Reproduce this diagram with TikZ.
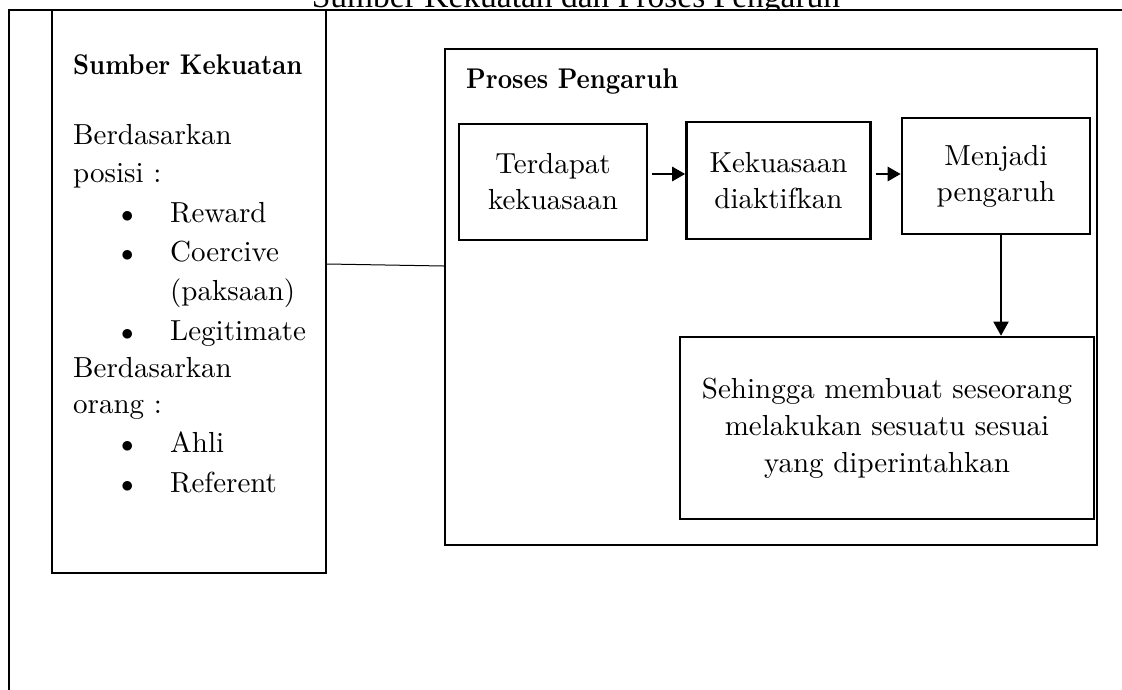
\documentclass[tikz,border=0pt]{standalone}
\usepackage{fontspec}
\setmainfont{lmroman10-regular.otf}[BoldFont=lmroman10-bold.otf]
\newfontfamily\headfont{lmroman10-bold.otf}[FakeStretch=0.88]
\newfontfamily\titlefont{Liberation Serif}
\usetikzlibrary{arrows.meta}
\begin{document}
\begin{tikzpicture}[x=1pt,y=-1pt,
  frame/.style={line width=2.4pt},
  panel/.style={draw, line width=2.3pt, inner sep=0pt},
  box/.style={draw, line width=2.6pt, inner sep=0pt, align=center,
    font=\fontsize{29}{36}\selectfont},
  txt/.style={anchor=base west, inner sep=0pt, font=\fontsize{29}{36}\selectfont},
  head/.style={anchor=base west, inner sep=0pt, font=\headfont\fontsize{28.5}{34}\selectfont},
  item/.style={txt},
  flow/.style={line width=2.7pt, shorten <=4pt, -{Triangle[length=13pt,width=14pt]}},
  drop/.style={line width=1.8pt, -{Triangle[length=14pt,width=15pt]}},
  link/.style={line width=1pt}]
\useasboundingbox (0,0) rectangle (1122,689);

% heading, partly cut by the top edge
\begin{scope}
  \clip (0,0) rectangle (1122,9);
  \node[anchor=base, inner sep=0pt, font=\titlefont\fontsize{33.5}{40}\selectfont]
    (title) at (576,7) {Sumber Kekuatan dan Proses Pengaruh};
\end{scope}

% outer frame lines
\coordinate (tr) at (1125,10);
\coordinate (tl) at (9,10);
\coordinate (bl) at (9,692);
\draw[frame] (tr) -- (tl) -- (bl);

% sources of power
\node[panel, minimum width=274pt, minimum height=563pt] (src) at (189,291.5) {};
\node[head] (srct) at (73,74) {Sumber Kekuatan};
\node[txt] (l1) at (73,144) {Berdasarkan};
\node[txt] (l2) at (73,182) {posisi :};
\node[item] (l3) at (121,222) {\makebox[49pt][l]{$\bullet$}Reward};
\node[item] (l4) at (121,261) {\makebox[49pt][l]{$\bullet$}Coercive};
\node[txt] (l5) at (170,300) {(paksaan)};
\node[item] (l6) at (121,340) {\makebox[49pt][l]{$\bullet$}Legitimate};
\node[txt] (l7) at (73,377) {Berdasarkan};
\node[txt] (l8) at (73,413) {orang :};
\node[item] (l9) at (121,452) {\makebox[49pt][l]{$\bullet$}Ahli};
\node[item] (l10) at (121,492) {\makebox[49pt][l]{$\bullet$}Referent};

% influence process
\node[panel, minimum width=652pt, minimum height=496pt] (proc) at (771,297) {};
\node[head] (proct) at (466,88) {Proses Pengaruh};

\node[box, minimum width=188pt, minimum height=116pt] (t1) at (553,182) {Terdapat\\kekuasaan};
\node[box, minimum width=184pt, minimum height=117pt] (k1) at (778.5,180.5) {Kekuasaan\\diaktifkan};
\node[box, minimum width=188pt, minimum height=116pt] (m1) at (996,176) {Menjadi\\pengaruh};
\node[box, minimum width=414pt, minimum height=182pt, font=\fontsize{29}{37}\selectfont]
  (s1) at (887,428) {Sehingga membuat seseorang\\melakukan sesuatu sesuai\\yang diperintahkan};

% connectors
\coordinate (flowy) at (0,174);
\coordinate (dropx) at (1001,0);
\draw[flow] (t1.east |- flowy) -- (k1.west |- flowy);
\draw[flow] (k1.east |- flowy) -- (m1.west |- flowy);
\draw[drop] (m1.south -| dropx) -- (s1.north -| dropx);
\draw[link] ([yshift=27.5pt]src.east) -- ([yshift=31pt]proc.west);
\end{tikzpicture}
\end{document}
